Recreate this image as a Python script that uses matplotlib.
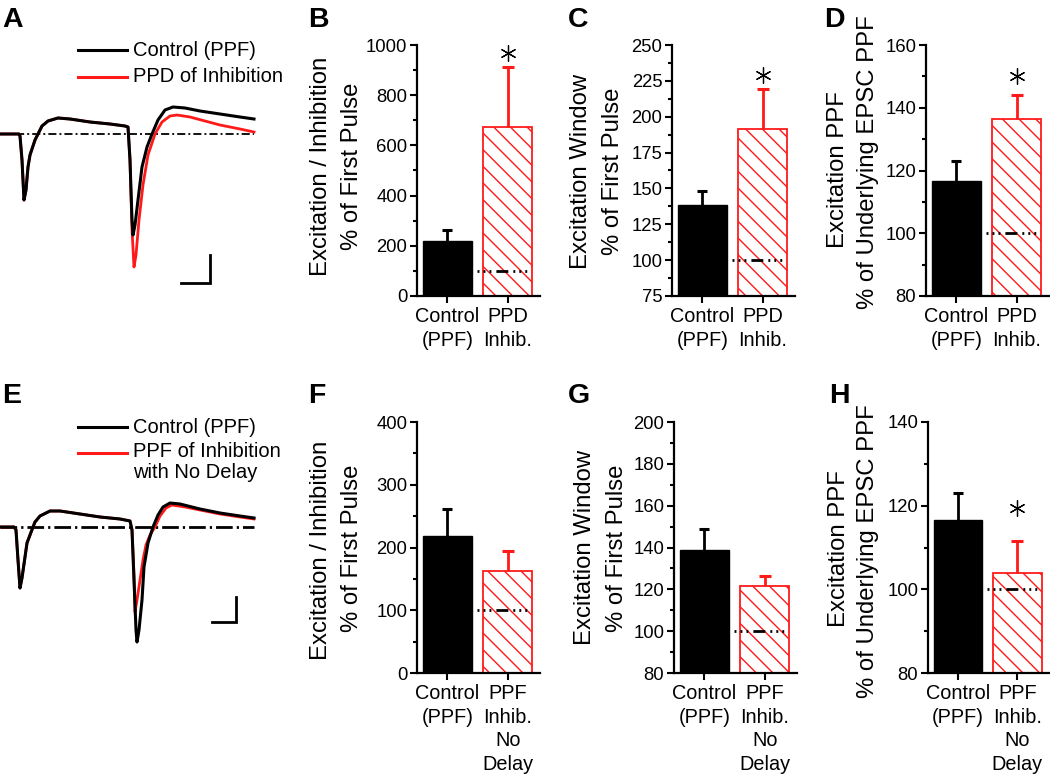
import matplotlib
matplotlib.use("Agg")
import matplotlib.pyplot as plt
from matplotlib.ticker import MultipleLocator

plt.rcParams['font.family'] = ['Liberation Sans', 'DejaVu Sans']
plt.rcParams['hatch.linewidth'] = 1.0
plt.rcParams['lines.scale_dashes'] = False

W, H = 1050, 779
RED = '#ff1a1a'

# ---------------- data ----------------
# Panel A traces (time in arbitrary units, current relative to baseline)
tA_ctrl = [0, 19, 20, 22, 24, 26, 28, 30, 35, 38, 42, 48, 58, 70, 90, 110, 125, 128,
           130, 132, 133, 135, 138, 142, 147, 152, 158, 165, 173, 185, 200, 220, 240, 254]
iA_ctrl = [0, 0, -2, -26, -66, -56, -33, -21, -6, 0, 8, 13, 16, 15, 12, 10, 8, 7,
           -26, -86, -101, -91, -66, -33, -13, 0, 14, 24, 27, 26, 23, 20, 17, 15]
tA_ppd = [0, 19, 20, 22, 24, 26, 28, 30, 35, 38, 42, 48, 58, 70, 90, 110, 125, 128,
          130, 132, 134, 136, 139, 143, 148, 155, 162, 170, 177, 190, 205, 220, 240, 254]
iA_ppd = [0, 0, -2, -26, -66, -56, -33, -21, -6, 0, 8, 13, 16, 15, 12, 10, 8, 7,
          -26, -96, -133, -121, -86, -51, -21, 0, 12, 18, 19, 17, 13, 9, 5, 2]

# Panel E traces
tE_ctrl = [0, 14, 16, 18, 20, 22, 27, 33, 35, 40, 50, 60, 80, 100, 120, 130, 132, 134,
           136, 137, 139, 142, 144, 148, 153, 158, 163, 170, 180, 200, 220, 240, 254]
iE_ctrl = [0, 0, -3, -33, -61, -51, -16, 0, 5, 11, 16, 16, 13, 10, 8, 6, -3, -53,
           -103, -115, -103, -73, -40, -16, 0, 12, 20, 24, 23, 18, 14, 11, 9]
tE_ppf = [0, 14, 16, 18, 20, 22, 27, 33, 35, 40, 50, 60, 80, 100, 120, 130,
          132, 134, 135, 137, 140, 143, 146, 150, 155, 160, 166, 172, 185, 200, 220, 240, 254]
iE_ppf = [0, 0, -3, -33, -61, -51, -16, 0, 5, 11, 16, 16, 13, 10, 8, 6,
          -3, -48, -85, -73, -53, -33, -18, -8, 0, 11, 19, 22, 20, 17, 13, 10, 8]

legend_A = ['Control (PPF)', 'PPD of Inhibition']
legend_E = ['Control (PPF)', 'PPF of Inhibition\nwith No Delay']

cats_top = ['Control\n(PPF)', 'PPD\nInhib.']
cats_bot = ['Control\n(PPF)', 'PPF\nInhib.\nNo\nDelay']

# bar means and SEM (control, manipulation)
B_mean = [219, 674]; B_sem = [43, 237]
C_mean = [138.5, 191.5]; C_sem = [10, 27.5]
D_mean = [116.6, 136.4]; D_sem = [6.4, 7.6]
F_mean = [218, 162.5]; F_sem = [44, 31.5]
G_mean = [138.8, 121.5]; G_sem = [9.9, 5.0]
H_mean = [116.6, 104.0]; H_sem = [6.5, 7.6]

# asterisk levels (None = no asterisk)
B_star = 970; C_star = 229; D_star = 150; F_star = None; G_star = None; H_star = 119.4

fig = plt.figure(figsize=(W / 100, H / 100), dpi=100)


def add_px_axes(l, t, r, b):
    return fig.add_axes([l / W, 1 - b / H, (r - l) / W, (b - t) / H])


def fig_text(x, y, s, **kw):
    fig.text(x / W, 1 - y / H, s, **kw)


# --------------- trace panels ---------------
def trace_panel(box, base_y, t_c, i_c, t_r, i_r, labels, leg_y, scale, dash, base_lw):
    l, t, r, b = box
    ax = add_px_axes(l, t, r, b)
    ax.set_xlim(0, r - l)
    ax.set_ylim(-(b - base_y), base_y - t)
    ax.axis('off')
    ax.plot([0, 254], [0, 0], color='black', lw=base_lw, linestyle=(0, dash))
    ax.plot(t_r, i_r, color=RED, lw=2.0, solid_joinstyle='round')
    ax.plot(t_c, i_c, color='black', lw=2.2, solid_joinstyle='round')
    cols = ['black', RED]
    for k, (lab, yy) in enumerate(zip(labels, leg_y)):
        a = base_y - yy
        ax.plot([78, 127], [a, a], color=cols[k], lw=2.2)
        if '\n' in lab:
            ax.text(133, a + 11, lab, fontsize=14.5, va='top', ha='left', linespacing=1.12)
        else:
            ax.text(133, a, lab, fontsize=14.5, va='center', ha='left')
    sx, sy0, sy1, hx0 = scale
    ax.plot([hx0, sx, sx], [base_y - sy1, base_y - sy1, base_y - sy0],
            color='black', lw=2.0, solid_joinstyle='miter')
    return ax


trace_panel((0, 0, 262, 300), 134, tA_ctrl, iA_ctrl, tA_ppd, iA_ppd, legend_A,
            [50, 77], (210, 255, 283, 181), (5.8, 2.2, 1.4, 2.2), 1.3)
trace_panel((0, 390, 262, 700), 527, tE_ctrl, iE_ctrl, tE_ppf, iE_ppf, legend_E,
            [427, 453], (236, 597, 622, 212), (12, 2.9, 1.6, 2.9), 2.0)


# --------------- bar panels ---------------
def bar_panel(box, ylim, major, minor, means, sems, star, cats):
    ax = add_px_axes(*box)
    ymin, ymax = ylim
    x = [0, 1]
    wid = 0.81
    ax.bar(x[0], means[0] - ymin, bottom=ymin, width=wid, color='black',
           edgecolor='black', lw=1.0, zorder=2)
    ax.bar(x[1], means[1] - ymin, bottom=ymin, width=wid, color='white',
           edgecolor=RED, hatch='\\\\', lw=1.3, zorder=2)
    for xi, m, e, c, cw in [(x[0], means[0], sems[0], 'black', 7.5),
                            (x[1], means[1], sems[1], RED, 9)]:
        ax.plot([xi, xi], [m, m + e], color=c, lw=2.0, zorder=3, solid_capstyle='butt')
        ax.plot([xi], [m + e], marker='_', markersize=cw, mew=2.2, color=c, zorder=3)
    ax.plot([0.49, 1.405], [100, 100], color='black', lw=2.0, zorder=4,
            linestyle=(0, (1.4, 2.9, 1.4, 2.9, 1.4, 3.6, 8.6, 3.6, 1.4, 2.9, 1.4, 2.9, 1.4, 20)))
    if star is not None:
        ax.plot(x[1], star, marker=(6, 2, 0), markersize=11.5, color='black',
                mew=0.9, zorder=5, clip_on=False)
    ax.set_xlim(-0.5, 1.53)
    ax.set_ylim(ymin, ymax)
    ax.set_xticks(x)
    ax.set_xticklabels(cats, fontsize=14.3, linespacing=1.3)
    ax.yaxis.set_major_locator(MultipleLocator(major))
    ax.yaxis.set_minor_locator(MultipleLocator(minor))
    ax.tick_params(axis='y', which='major', labelsize=13.3, length=5, width=1.5,
                   direction='out', pad=2)
    ax.tick_params(axis='y', which='minor', length=3, width=1.5, direction='out')
    ax.tick_params(axis='x', which='major', length=5, width=1.5, direction='out', pad=3)
    ax.tick_params(axis='x', which='minor', bottom=False)
    for s in ['top', 'right']:
        ax.spines[s].set_visible(False)
    for s in ['left', 'bottom']:
        ax.spines[s].set_linewidth(1.6)
    ax.set_facecolor('none')
    return ax


bar_panel((417, 45, 540, 296), (0, 1000), 200, 100, B_mean, B_sem, B_star, cats_top)
bar_panel((672, 45, 795, 296), (75, 250), 25, 12.5, C_mean, C_sem, C_star, cats_top)
bar_panel((926, 45, 1049, 296), (80, 160), 20, 10, D_mean, D_sem, D_star, cats_top)
bar_panel((417, 422, 540, 673), (0, 400), 100, 50, F_mean, F_sem, F_star, cats_bot)
bar_panel((674, 422, 797, 673), (80, 200), 20, 10, G_mean, G_sem, G_star, cats_bot)
bar_panel((928, 422, 1049, 673), (80, 140), 20, 10, H_mean, H_sem, H_star, cats_bot)

# --------------- y labels (two lines each) ---------------
ylab_kw = dict(rotation=90, ha='center', va='center', fontsize=17.2)
fig_text(321, 166, 'Excitation / Inhibition', **ylab_kw)
fig_text(352, 166, '% of First Pulse', **ylab_kw)
fig_text(581, 171, 'Excitation Window', **ylab_kw)
fig_text(613, 171, '% of First Pulse', **ylab_kw)
fig_text(838, 170, 'Excitation PPF', **ylab_kw)
fig_text(868, 162, '% of Underlying EPSC PPF', **ylab_kw)
fig_text(321, 550, 'Excitation / Inhibition', **ylab_kw)
fig_text(352, 548, '% of First Pulse', **ylab_kw)
fig_text(585, 547, 'Excitation Window', **ylab_kw)
fig_text(617, 548, '% of First Pulse', **ylab_kw)
fig_text(839, 549, 'Excitation PPF', **ylab_kw)
fig_text(868, 551, '% of Underlying EPSC PPF', **ylab_kw)

# --------------- panel letters ---------------
let_kw = dict(fontsize=20.5, fontweight='bold', ha='left', va='baseline')
for lab, x, y in [('A', 2, 27), ('B', 308, 27), ('C', 568, 27), ('D', 824, 27),
                  ('E', 2, 403), ('F', 308, 403), ('G', 568, 403), ('H', 829, 403)]:
    fig_text(x, y, lab, **let_kw)

fig.savefig('out.png', dpi=100, facecolor='white')
